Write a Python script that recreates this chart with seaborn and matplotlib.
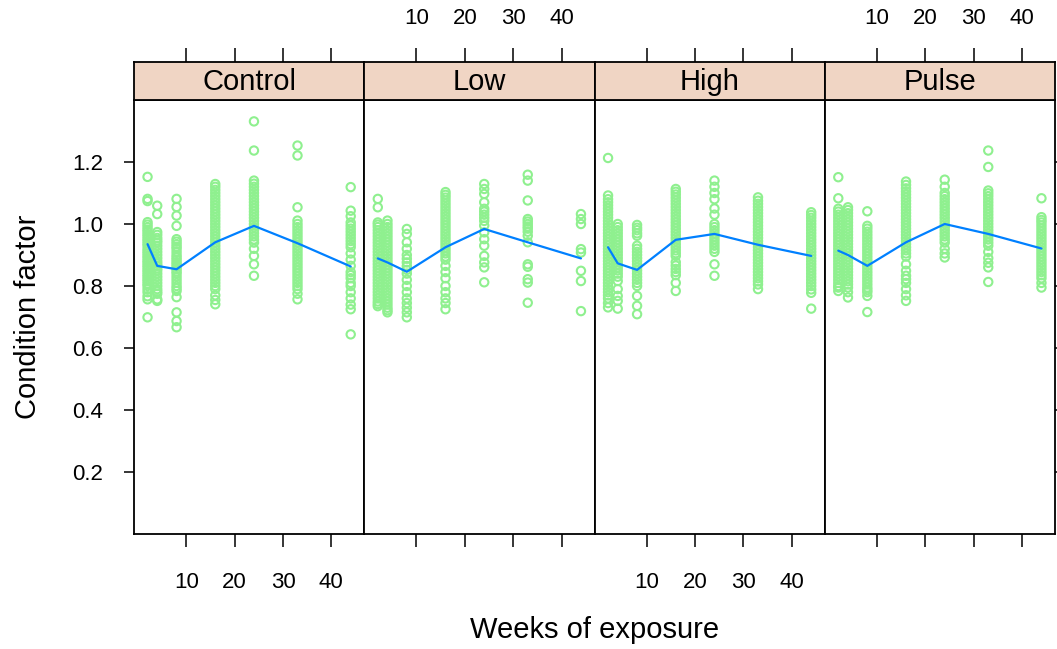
import matplotlib
matplotlib.use("Agg")
import matplotlib.pyplot as plt
import pandas as pd
import seaborn as sns

# Treatment groups, one panel each
groups = ["Control", "Low", "High", "Pulse"]

# Sampling times (weeks of exposure)
weeks = [2, 4, 8, 16, 24, 33, 44]

# Condition factor of individual fish, one list per sampling week
control_cf = [
    [1.152, 1.081, 1.074, 1.006, 0.998, 0.99, 0.982, 0.975, 0.967, 0.96, 0.952, 0.945, 0.937,
     0.93, 0.92, 0.912, 0.905, 0.897, 0.89, 0.882, 0.875, 0.867, 0.86, 0.852, 0.845, 0.837,
     0.83, 0.822, 0.815, 0.807, 0.80, 0.79, 0.78, 0.767, 0.757, 0.699],
    [1.059, 1.032, 0.974, 0.965, 0.955, 0.947, 0.94, 0.93, 0.92, 0.91, 0.90, 0.89, 0.88,
     0.872, 0.865, 0.857, 0.85, 0.84, 0.83, 0.82, 0.81, 0.80, 0.79, 0.782, 0.775, 0.757, 0.752],
    [1.081, 1.055, 1.027, 0.994, 0.951, 0.943, 0.935, 0.927, 0.92, 0.91, 0.90, 0.892, 0.885,
     0.877, 0.87, 0.862, 0.855, 0.847, 0.84, 0.83, 0.82, 0.81, 0.80, 0.792, 0.784, 0.764,
     0.715, 0.687, 0.667],
    [1.129, 1.12, 1.11, 1.10, 1.09, 1.08, 1.07, 1.06, 1.05, 1.04, 1.03, 1.02, 1.01, 1.0, 0.99,
     0.98, 0.97, 0.96, 0.95, 0.94, 0.93, 0.92, 0.91, 0.90, 0.89, 0.88, 0.87, 0.86, 0.85,
     0.84, 0.83, 0.82, 0.81, 0.80, 0.79, 0.77, 0.755, 0.741],
    [1.331, 1.237, 1.14, 1.13, 1.12, 1.11, 1.10, 1.09, 1.08, 1.07, 1.06, 1.05, 1.04, 1.03,
     1.02, 1.01, 1.00, 0.99, 0.98, 0.97, 0.96, 0.95, 0.94, 0.92, 0.897, 0.87, 0.833],
    [1.253, 1.221, 1.054, 1.011, 1.0, 0.99, 0.98, 0.97, 0.96, 0.95, 0.94, 0.93, 0.92, 0.91,
     0.90, 0.89, 0.88, 0.87, 0.86, 0.85, 0.84, 0.83, 0.82, 0.81, 0.80, 0.79, 0.775, 0.757],
    [1.119, 1.043, 1.025, 1.005, 0.995, 0.985, 0.975, 0.965, 0.955, 0.945, 0.935, 0.925,
     0.905, 0.885, 0.865, 0.845, 0.835, 0.825, 0.81, 0.80, 0.78, 0.76, 0.74, 0.725, 0.644],
]
low_cf = [
    [1.081, 1.054, 1.005, 0.998, 0.99, 0.98, 0.97, 0.96, 0.95, 0.94, 0.93, 0.92, 0.91, 0.90,
     0.89, 0.88, 0.87, 0.86, 0.85, 0.84, 0.83, 0.82, 0.81, 0.80, 0.79, 0.78, 0.77, 0.76,
     0.75, 0.742, 0.735],
    [1.011, 1.0, 0.99, 0.98, 0.97, 0.96, 0.95, 0.94, 0.93, 0.92, 0.91, 0.90, 0.89, 0.88,
     0.87, 0.86, 0.85, 0.84, 0.83, 0.82, 0.81, 0.80, 0.79, 0.78, 0.77, 0.76, 0.75, 0.74,
     0.73, 0.722, 0.715],
    [0.984, 0.968, 0.941, 0.92, 0.90, 0.888, 0.876, 0.864, 0.852, 0.84, 0.82, 0.80, 0.78,
     0.76, 0.745, 0.73, 0.715, 0.699],
    [1.103, 1.094, 1.085, 1.075, 1.065, 1.055, 1.045, 1.035, 1.025, 1.015, 1.005, 0.995,
     0.985, 0.975, 0.965, 0.955, 0.945, 0.935, 0.925, 0.915, 0.905, 0.895, 0.885, 0.865,
     0.845, 0.825, 0.80, 0.78, 0.76, 0.745, 0.725],
    [1.129, 1.113, 1.097, 1.070, 1.049, 1.04, 1.03, 1.02, 1.01, 0.995, 0.973, 0.951, 0.930,
     0.897, 0.876, 0.86, 0.812],
    [1.159, 1.140, 1.076, 1.016, 1.008, 1.0, 0.992, 0.985, 0.975, 0.962, 0.941, 0.87, 0.862,
     0.822, 0.811, 0.746],
    [1.032, 1.016, 1.0, 0.919, 0.908, 0.849, 0.816, 0.719],
]
high_cf = [
    [1.213, 1.092, 1.08, 1.07, 1.06, 1.05, 1.04, 1.03, 1.02, 1.01, 1.0, 0.99, 0.98, 0.97,
     0.96, 0.95, 0.94, 0.93, 0.92, 0.91, 0.90, 0.89, 0.88, 0.87, 0.86, 0.85, 0.84, 0.83,
     0.82, 0.81, 0.80, 0.79, 0.78, 0.77, 0.76, 0.745, 0.731],
    [1.0, 0.99, 0.98, 0.97, 0.96, 0.95, 0.94, 0.93, 0.92, 0.91, 0.90, 0.89, 0.88, 0.87,
     0.86, 0.85, 0.84, 0.83, 0.816, 0.79, 0.768, 0.752, 0.727],
    [0.997, 0.988, 0.98, 0.97, 0.962, 0.93, 0.92, 0.91, 0.90, 0.89, 0.88, 0.87, 0.86, 0.85,
     0.84, 0.83, 0.82, 0.81, 0.80, 0.768, 0.736, 0.709],
    [1.113, 1.104, 1.095, 1.085, 1.075, 1.065, 1.055, 1.045, 1.035, 1.025, 1.015, 1.005,
     0.995, 0.985, 0.975, 0.965, 0.955, 0.945, 0.935, 0.925, 0.915, 0.906, 0.897, 0.877,
     0.866, 0.855, 0.845, 0.835, 0.81, 0.784],
    [1.14, 1.12, 1.10, 1.08, 1.05, 1.03, 1.0, 0.99, 0.98, 0.97, 0.96, 0.95, 0.94, 0.93,
     0.92, 0.91, 0.87, 0.833],
    [1.086, 1.075, 1.065, 1.055, 1.045, 1.035, 1.025, 1.015, 1.005, 0.995, 0.985, 0.975,
     0.965, 0.955, 0.945, 0.935, 0.925, 0.915, 0.905, 0.895, 0.885, 0.875, 0.865, 0.855,
     0.845, 0.835, 0.825, 0.815, 0.805, 0.79],
    [1.038, 1.029, 1.02, 1.01, 1.0, 0.99, 0.98, 0.97, 0.96, 0.95, 0.94, 0.93, 0.92, 0.91,
     0.90, 0.89, 0.88, 0.87, 0.86, 0.85, 0.84, 0.83, 0.82, 0.81, 0.80, 0.789, 0.778, 0.727],
]
pulse_cf = [
    [1.151, 1.083, 1.049, 1.04, 1.03, 1.02, 1.01, 1.0, 0.99, 0.98, 0.97, 0.96, 0.95, 0.94,
     0.93, 0.92, 0.91, 0.90, 0.89, 0.88, 0.87, 0.86, 0.85, 0.84, 0.83, 0.82, 0.81, 0.80,
     0.795, 0.784],
    [1.054, 1.045, 1.035, 1.025, 1.015, 1.005, 0.995, 0.985, 0.975, 0.965, 0.955, 0.945,
     0.935, 0.925, 0.915, 0.905, 0.895, 0.885, 0.875, 0.865, 0.855, 0.845, 0.835, 0.825,
     0.815, 0.805, 0.795, 0.78, 0.763],
    [1.041, 0.994, 0.985, 0.975, 0.965, 0.955, 0.945, 0.935, 0.925, 0.915, 0.905, 0.895,
     0.885, 0.875, 0.865, 0.855, 0.845, 0.835, 0.825, 0.815, 0.805, 0.795, 0.787, 0.78,
     0.768, 0.716],
    [1.137, 1.126, 1.115, 1.105, 1.095, 1.085, 1.075, 1.065, 1.055, 1.045, 1.035, 1.025,
     1.015, 1.005, 0.995, 0.985, 0.975, 0.965, 0.955, 0.945, 0.935, 0.925, 0.915, 0.905,
     0.895, 0.87, 0.849, 0.833, 0.822, 0.81, 0.79, 0.77, 0.752],
    [1.143, 1.12, 1.10, 1.09, 1.08, 1.07, 1.06, 1.05, 1.04, 1.03, 1.02, 1.01, 1.0, 0.99,
     0.98, 0.97, 0.96, 0.95, 0.94, 0.92, 0.905, 0.892],
    [1.237, 1.184, 1.108, 1.099, 1.09, 1.08, 1.07, 1.06, 1.05, 1.04, 1.03, 1.02, 1.01,
     1.0, 0.99, 0.98, 0.97, 0.96, 0.95, 0.94, 0.93, 0.91, 0.89, 0.875, 0.86, 0.813],
    [1.083, 1.022, 1.013, 1.005, 0.995, 0.985, 0.975, 0.965, 0.955, 0.945, 0.935, 0.925,
     0.915, 0.905, 0.895, 0.885, 0.875, 0.865, 0.855, 0.845, 0.835, 0.825, 0.81, 0.795],
]

# Mean condition factor per sampling week (the connecting line)
control_mean = [0.935, 0.865, 0.854, 0.941, 0.994, 0.938, 0.863]
low_mean = [0.889, 0.876, 0.846, 0.925, 0.984, 0.941, 0.889]
high_mean = [0.925, 0.873, 0.852, 0.949, 0.968, 0.933, 0.897]
pulse_mean = [0.914, 0.900, 0.865, 0.941, 1.000, 0.968, 0.921]

x_ticks = [10, 20, 30, 40]
y_ticks = [0.2, 0.4, 0.6, 0.8, 1.0, 1.2]

point_sets = dict(zip(groups, [control_cf, low_cf, high_cf, pulse_cf]))
mean_sets = dict(zip(groups, [control_mean, low_mean, high_mean, pulse_mean]))

points = pd.DataFrame(
    [(g, w, v) for g in groups for w, vals in zip(weeks, point_sets[g]) for v in vals],
    columns=["group", "week", "cf"],
)
means = pd.DataFrame(
    [(g, w, m) for g in groups for w, m in zip(weeks, mean_sets[g])],
    columns=["group", "week", "cf"],
)

sns.set_theme(style="white")
plt.rcParams["font.family"] = ["Liberation Sans", "DejaVu Sans"]
plt.rcParams["axes.edgecolor"] = "black"
plt.rcParams["axes.linewidth"] = 1.3
plt.rcParams["text.color"] = "black"
plt.rcParams["xtick.color"] = "black"
plt.rcParams["ytick.color"] = "black"
plt.rcParams["xtick.labelcolor"] = "black"
plt.rcParams["ytick.labelcolor"] = "black"

POINT = "#8FF08F"
LINE = "#0080FF"
STRIP = "#F0D5C4"

W, H = 1057, 649
fig = plt.figure(figsize=(W / 100, H / 100), dpi=100)
fig.patch.set_facecolor("white")

left, right = 134, 1055
panel_top, panel_bottom, strip_top = 100, 534, 62
pw = (right - left) / 4
xlim = (-0.8, 46.8)
ylim = (0.0, 1.40)

for i, g in enumerate(groups):
    x0 = (left + i * pw) / W
    ax = fig.add_axes([x0, (H - panel_bottom) / H, pw / W, (panel_bottom - panel_top) / H])
    sax = fig.add_axes([x0, (H - panel_top) / H, pw / W, (panel_top - strip_top) / H])

    sns.scatterplot(
        data=points[points.group == g], x="week", y="cf", ax=ax,
        marker="o", s=36, facecolors="none", edgecolor=POINT, linewidth=1.5,
        legend=False, zorder=2,
    )
    sns.lineplot(
        data=means[means.group == g], x="week", y="cf", ax=ax,
        color=LINE, linewidth=1.6, legend=False, zorder=3,
    )

    ax.set_xlim(*xlim)
    ax.set_ylim(*ylim)
    ax.set_xlabel("")
    ax.set_ylabel("")
    ax.set_xticks(x_ticks)
    ax.set_yticks(y_ticks)
    ax.set_facecolor("white")
    ax.grid(False)
    ax.tick_params(axis="x", bottom=True, top=False, direction="out", length=9.5,
                   width=1.1, color="black", labelcolor="black", labelsize=16, pad=18,
                   labelbottom=(i in (0, 2)))
    if i == 0:
        ax.set_yticklabels([f"{v:.1f}" for v in y_ticks])
        ax.tick_params(axis="y", left=True, right=False, direction="out", length=7.5,
                       width=1.1, color="black", labelcolor="black", labelsize=16, pad=15)
    elif i == 3:
        ax.tick_params(axis="y", left=False, labelleft=False, right=True, labelright=False,
                       direction="out", length=7.5, width=1.1, color="black")
    else:
        ax.tick_params(axis="y", left=False, labelleft=False, right=False)
    for sp in ax.spines.values():
        sp.set_visible(True)
        sp.set_color("black")
        sp.set_linewidth(1.3)

    # Strip with the group name; the top axis ticks sit above it
    sax.set_facecolor(STRIP)
    sax.set_xlim(*xlim)
    sax.set_ylim(0, 1)
    sax.set_yticks([])
    sax.set_xticks(x_ticks)
    sax.xaxis.tick_top()
    sax.tick_params(axis="x", top=True, bottom=False, labelbottom=False,
                    labeltop=(i in (1, 3)), direction="out", length=10, width=1.1,
                    color="black", labelcolor="black", labelsize=16, pad=14)
    sax.grid(False)
    for sp in sax.spines.values():
        sp.set_visible(True)
        sp.set_color("black")
        sp.set_linewidth(1.3)
    sax.text(0.5, 0.47, g, transform=sax.transAxes, ha="center", va="center",
             fontsize=21, color="black")

fig.text((left + right) / 2 / W, 1 - 630 / H, "Weeks of exposure",
         ha="center", va="center", fontsize=21, color="black")
fig.text(28 / W, 1 - (panel_top + panel_bottom) / 2 / H, "Condition factor",
         ha="center", va="center", rotation=90, fontsize=21, color="black")

fig.savefig("out.png", dpi=100)
